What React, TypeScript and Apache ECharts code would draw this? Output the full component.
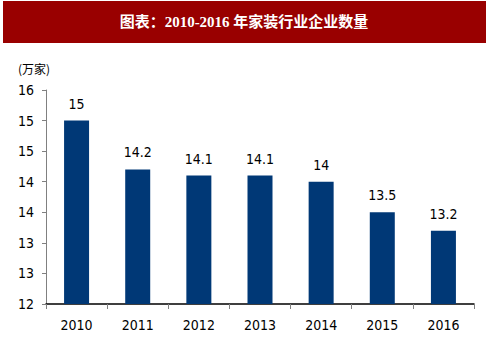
import React, { useEffect, useRef } from "react";
import * as echarts from "echarts";

const years = ["2010", "2011", "2012", "2013", "2014", "2015", "2016"];
const counts = [15, 14.2, 14.1, 14.1, 14, 13.5, 13.2];
const yMin = 12;
const yMax = 15.5;
const yStep = 0.5;
const titleText = "图表：2010-2016 年家装行业企业数量";
const unitText = "(万家)";

const narrow = "'Liberation Sans Narrow', 'DejaVu Sans Condensed', 'Noto Sans', sans-serif";

export default function App() {
  const ref = useRef<HTMLDivElement>(null);
  useEffect(() => {
    if (!ref.current) return;
    const chart = echarts.init(ref.current, null, { renderer: "svg" });
    chart.setOption({
      animation: false,
      backgroundColor: "#ffffff",
      grid: { left: 46, right: 12, top: 90, bottom: 50, containLabel: false },
      graphic: [
        {
          type: "rect",
          shape: { x: 3, y: 1, width: 483, height: 42 },
          style: { fill: "#990000" },
          silent: true,
        },
        {
          type: "text",
          x: 244,
          y: 22,
          style: {
            text: titleText,
            fill: "#ffffff",
            font: "bold 15px 'Liberation Serif', 'Noto Sans CJK SC', serif",
            textAlign: "center",
            textVerticalAlign: "middle",
          },
        },
        {
          type: "text",
          x: 18,
          y: 68,
          style: {
            text: unitText,
            fill: "#000000",
            font: "12px 'Noto Sans CJK SC', sans-serif",
            textAlign: "left",
            textVerticalAlign: "middle",
          },
        },
      ],
      xAxis: {
        type: "category",
        data: years,
        boundaryGap: true,
        axisLine: { show: true, lineStyle: { color: "#000000", width: 1.5 } },
        axisTick: { show: true, alignWithLabel: false, length: 5, lineStyle: { color: "#808080" } },
        axisLabel: { color: "#000000", fontSize: 14, fontFamily: narrow, margin: 14 },
      },
      yAxis: {
        type: "value",
        min: yMin,
        max: yMax,
        interval: yStep,
        axisLine: { show: true, lineStyle: { color: "#808080", width: 1 } },
        axisTick: { show: true, inside: false, length: 4, lineStyle: { color: "#808080" } },
        splitLine: { show: false },
        axisLabel: {
          color: "#000000",
          fontSize: 14,
          fontFamily: narrow,
          margin: 12,
          formatter: (v: number) => String(Math.round(v)),
        },
      },
      series: [
        {
          type: "bar",
          data: counts,
          barWidth: 25,
          itemStyle: { color: "#003876" },
          label: {
            show: true,
            position: "top",
            distance: 10,
            color: "#000000",
            fontSize: 14,
            fontFamily: narrow,
          },
        },
      ],
    });
    return () => chart.dispose();
  }, []);
  return <div ref={ref} style={{ width: 486, height: 354, position: "absolute", left: 0, top: 0 }} />;
}
